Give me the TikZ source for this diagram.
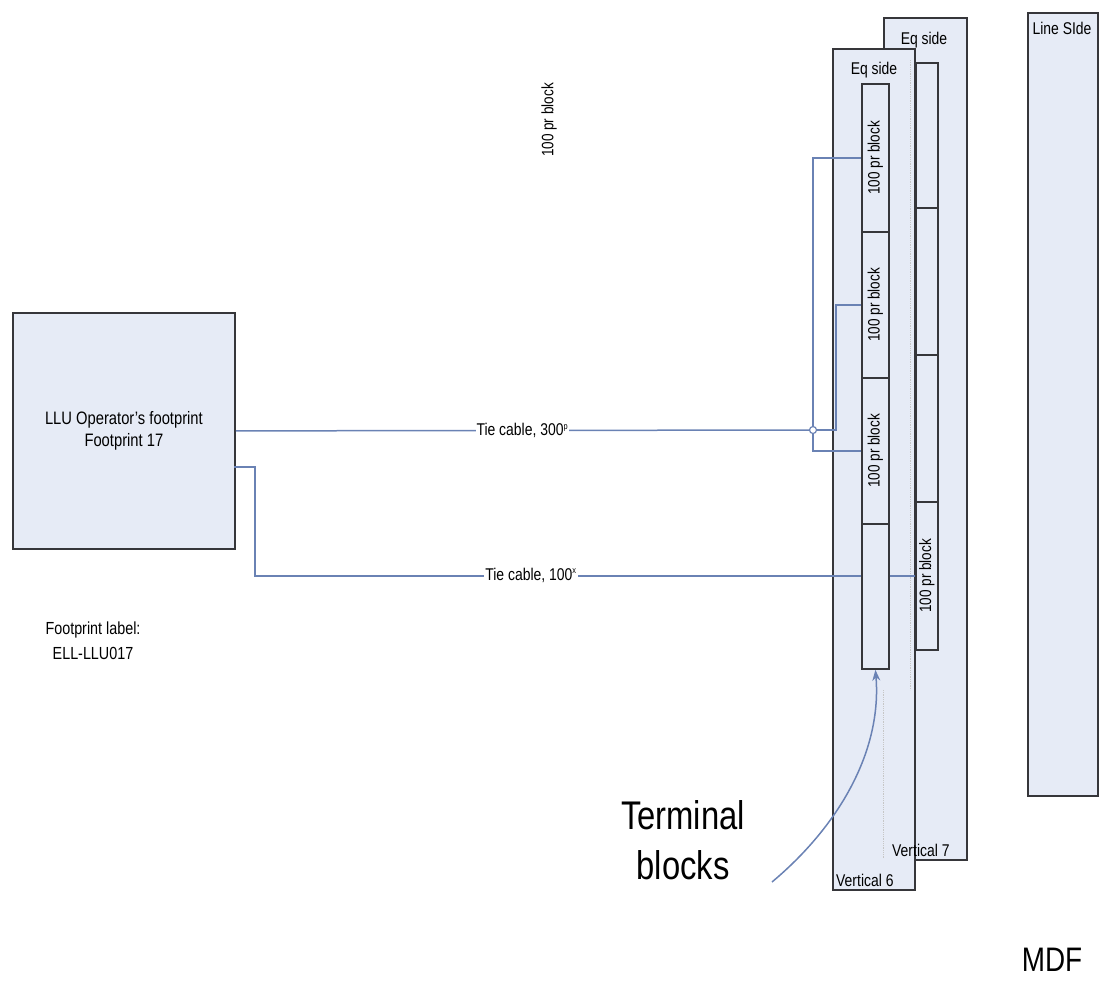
\documentclass[tikz,border=0pt]{standalone}
\usepackage{fontspec}
\setmainfont{Liberation Sans}[FakeStretch=0.82]
\usetikzlibrary{arrows.meta}
\definecolor{boxfill}{HTML}{E6EBF6}
\definecolor{edge}{HTML}{36363A}
\definecolor{cableblue}{HTML}{6A82B4}
\begin{document}
\begin{tikzpicture}[x=1pt,y=-1pt,
  frame/.style={draw=edge, fill=boxfill, line width=1.8pt, inner sep=0, anchor=north west},
  tblock/.style={draw=edge, fill=boxfill, line width=1.8pt, inner sep=0, anchor=north west, minimum width=27pt},
  vblock/.style={draw=edge, fill=boxfill, line width=1.8pt, inner sep=0, anchor=north west, minimum width=22pt},
  cable/.style={draw=cableblue, line width=1.5pt},
  lbl/.style={font=\fontsize{17}{19}\selectfont, inner sep=1pt},
  rlbl/.style={font=\fontsize{16.5}{18}\selectfont, rotate=90, inner sep=0},
  guide/.style={draw=gray!45, densely dotted, line width=0.8pt}]
\useasboundingbox (0,0) rectangle (1111,999);

% Line side frame
\node[frame, minimum width=70pt, minimum height=783pt] (ls) at (1027,12) {};
\node[lbl] (lstext) at (1062,28) {Line SIde};

% Vertical 7
\node[frame, minimum width=83pt, minimum height=842pt] (v7) at (883,17) {};
\node[lbl] (v7eq) at (924,40) {Eq side};
\node[vblock, minimum height=145pt] (c1) at (915,62) {};
\node[vblock, minimum height=147pt] (c2) at (915,207) {};
\node[vblock, minimum height=147pt] (c3) at (915,354) {};
\node[vblock, minimum height=148pt] (c4) at (915,501) {};
\node[rlbl] (c4t) at (c4.center) {100 pr block};

% Vertical 6
\node[frame, minimum width=82pt, minimum height=841pt] (v6) at (832,48) {};
\node[lbl] (v6eq) at (874,70) {Eq side};
\draw[guide] (910,60) -- (910,690);
\draw[guide] (883,690) -- (883,858);
\node[tblock, minimum height=148pt] (b1) at (861,83) {};
\node[tblock, minimum height=146pt] (b2) at (861,231) {};
\node[tblock, minimum height=146pt] (b3) at (861,377) {};
\node[tblock, minimum height=145pt] (b4) at (861,523) {};
\node[rlbl] (b1t) at (b1.center) {100 pr block};
\node[rlbl] (b2t) at (b2.center) {100 pr block};
\node[rlbl] (b3t) at (b3.center) {100 pr block};
\node[lbl, anchor=south west, inner sep=0] (v6t) at (836,887) {Vertical 6};
\node[lbl, anchor=south west, inner sep=0] (v7t) at (892,857) {Vertical 7};

% Footprint
\node[frame, minimum width=222pt, minimum height=236pt] (fp) at (12,312) {};
\node[font=\fontsize{18}{22}\selectfont, align=center] (fptext) at (fp.center) {LLU Operator's footprint\\Footprint 17};
\node[font=\fontsize{17.5}{25}\selectfont, align=center] (fplabel) at (93,641) {Footprint label:\\ELL-LLU017};

% floating label
\node[rlbl] (float) at (549,120) {100 pr block};

% cables
\node[circle, draw=cableblue, fill=white, line width=1.2pt, inner sep=0, minimum size=7pt] (j) at (813,430) {};
\draw[cable] (fp.east) -- node[lbl, fill=white, inner sep=1pt] (t300) {Tie cable, 300\textsuperscript{\fontsize{9}{10}\selectfont p}} (j);
\draw[cable] (b1.west) -| (j.north);
\draw[cable] (j.south) |- (b3.west);
\draw[cable] (j.east) -- (836,430) |- (b2.west);
\coordinate (fp2) at (234,467);
\coordinate (bend) at (255,467);
\draw[cable] (fp2) -- (bend) |- (b4.west |- c4.west);
\node[lbl, fill=white, inner sep=1pt] (t100) at (531,575) {Tie cable, 100\textsuperscript{\fontsize{9}{10}\selectfont x}};
\draw[cable] (b4.east |- c4.west) -- (c4.west);

% Terminal blocks annotation
\node[font=\fontsize{40}{50}\selectfont, align=center] (term) at (683,840) {Terminal\\blocks};
\coordinate (arrs) at (772,882);
\draw[cable, -{Stealth[length=11pt,width=8pt]}] (arrs) .. controls (840,825) and (882,750) .. (b4.south);

\node[font=\fontsize{34}{38}\selectfont] (mdf) at (1052,960) {MDF};
\end{tikzpicture}
\end{document}
